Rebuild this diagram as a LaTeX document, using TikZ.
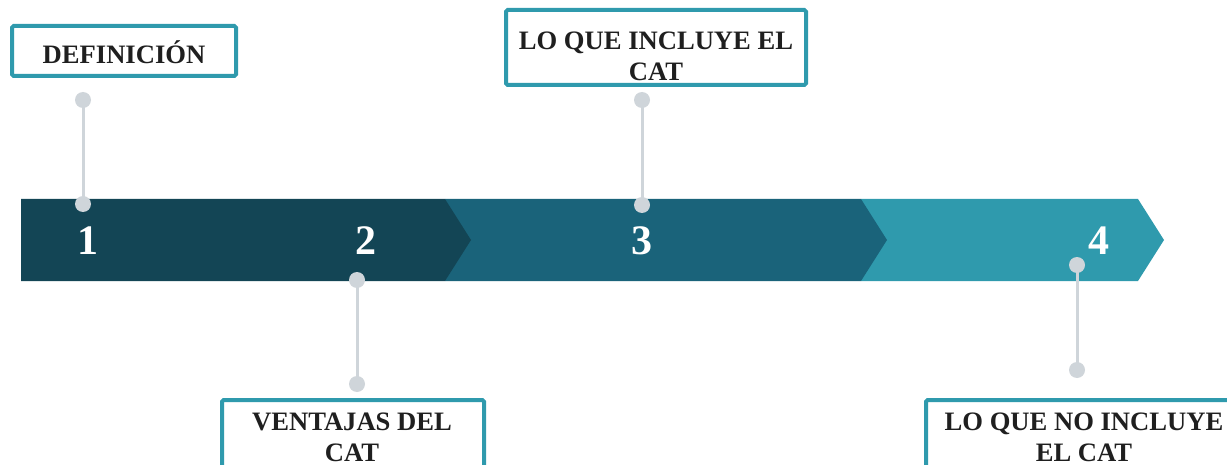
\documentclass[tikz,border=0pt]{standalone}
\usepackage{fontspec}
\setmainfont{Liberation Serif}
\definecolor{bandA}{HTML}{134555}
\definecolor{bandB}{HTML}{1A637A}
\definecolor{bandC}{HTML}{2F9AAD}
\definecolor{pingray}{HTML}{CFD5DA}
\tikzset{
  tagbox/.style={draw=bandC, line width=2pt, fill=white, rounded corners=0.8pt, inner sep=0pt},
  tagtext/.style={font=\bfseries\fontsize{13.3}{15.5}\selectfont, align=center, text=black!88},
  num/.style={font=\bfseries\fontsize{21}{21}\selectfont, text=white},
  pinline/.style={draw=pingray, line width=1.5pt},
}
\begin{document}
\begin{tikzpicture}[x=0.5pt,y=-0.5pt]
    \useasboundingbox (0,0) rectangle (1227,465);
    \clip (0,0) rectangle (1227,465);
    % Band
    \fill[bandC] (861,199) -- (1138,199) -- (1164,240) -- (1138,281) -- (861,281) -- cycle;
    \fill[bandB] (445,199) -- (861,199) -- (887,240) -- (861,281) -- (445,281) -- cycle;
    \fill[bandA] (21,199) -- (445,199) -- (471,240) -- (445,281) -- (21,281) -- cycle;
    \node[num] (n1) at (88,241) {1}; \node[num] (n2) at (366,241) {2};
    \node[num] (n3) at (642,241) {3}; \node[num] (n4) at (1099,241) {4};

    % Boxes
    \node[tagbox, minimum width=112pt, minimum height=25pt] (defbox) at (124,51) {};
    \node[tagtext] (deftext) at (124,52) {DEFINICIÓN};
    \node[tagbox, minimum width=150pt, minimum height=37.5pt] (incbox) at (656,47.5) {};
    \node[tagtext] (inctext) at (656,56) {LO QUE INCLUYE EL\\CAT};
    \node[tagbox, minimum width=131pt, minimum height=37.5pt] (venbox) at (353,437.5) {};
    \node[tagtext] (ventext) at (352,437) {VENTAJAS DEL\\CAT};
    \node[tagbox, minimum width=157pt, minimum height=37.5pt] (nobox) at (1083,437.5) {};
    \node[tagtext] (notext) at (1084,437) {LO QUE NO INCLUYE\\EL CAT};

    % Pins
    \coordinate (p1a) at (83,100); \coordinate (p1b) at (83,204);
    \coordinate (p2a) at (357,280); \coordinate (p2b) at (357,384);
    \coordinate (p3a) at (642,100); \coordinate (p3b) at (642,205);
    \coordinate (p4a) at (1077,265); \coordinate (p4b) at (1077,370);
    \foreach \p in {1,2,3,4} \draw[pinline] (p\p a) -- (p\p b);
    \foreach \p in {p1a,p1b,p2a,p2b,p3a,p3b,p4a,p4b} \fill[pingray] (\p) circle (4pt);
\end{tikzpicture}
\end{document}
